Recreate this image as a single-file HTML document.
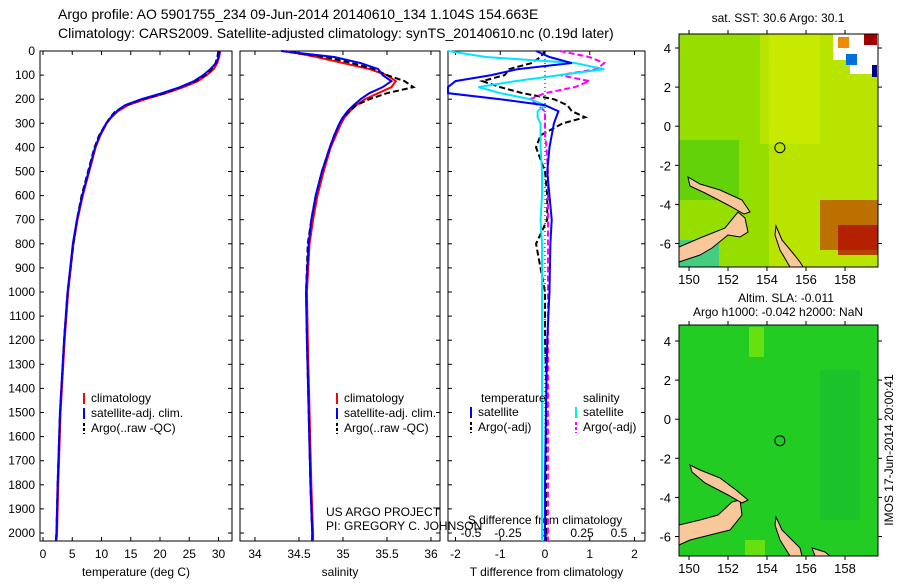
<!DOCTYPE html>
<html><head><meta charset="utf-8"><style>
body{margin:0;background:#fff;}
svg{font-family:"Liberation Sans",sans-serif;}
</style></head><body>
<svg id="c" width="900" height="580" xmlns="http://www.w3.org/2000/svg">
<text x="58" y="19" font-size="14">Argo profile: AO 5901755_234 09-Jun-2014 20140610_134 1.104S 154.663E</text>
<text x="58" y="38" font-size="14">Climatology: CARS2009. Satellite-adjusted climatology: synTS_20140610.nc (0.19d later)</text>
<g id="maps"></g>
</svg>
<script>
// ---- data ----
const depth   = [0,25,50,75,100,125,150,175,200,225,250,275,300,350,400,500,600,700,800,1000,1200,1500,1800,2000,2070];
const tempClim= [30.3,30.1,29.8,29.2,28.0,26.5,24.0,21.0,17.5,14.5,12.8,11.7,10.9,9.8,9.0,7.9,6.8,5.9,5.2,4.3,3.7,3.0,2.6,2.4,2.3];
const tempSat = [30.2,30.0,29.6,28.6,27.4,25.8,23.4,20.3,16.8,14.0,12.6,11.6,10.8,9.7,8.9,7.8,6.7,5.8,5.1,4.2,3.6,2.9,2.5,2.3,2.2];
const tempArgo= [30.0,29.8,29.5,28.8,27.8,26.0,23.5,20.8,17.0,14.2,12.4,11.5,10.8,9.6,8.8,7.7,6.6,5.8,5.2,4.2,3.6,2.9,2.5,2.3,2.2];
const salClim = [34.35,34.7,35.0,35.3,35.5,35.6,35.55,35.4,35.25,35.15,35.08,35.02,34.98,34.92,34.86,34.78,34.71,34.66,34.62,34.59,34.60,34.62,34.64,34.66,34.66];
const salSat  = [34.3,34.9,35.2,35.4,35.45,35.55,35.45,35.3,35.2,35.12,35.05,35.0,34.96,34.9,34.85,34.76,34.69,34.64,34.61,34.58,34.59,34.61,34.63,34.65,34.65];
const salArgo = [34.3,34.8,35.1,35.35,35.5,35.7,35.8,35.5,35.3,35.15,35.07,35.0,34.96,34.9,34.85,34.76,34.69,34.64,34.60,34.58,34.59,34.61,34.63,34.65,34.65];
const dTsat   = [-0.2,0.1,0.6,-0.6,-1.2,-2.0,-2.4,-2.3,-1.0,0.0,0.3,0.25,0.2,0.15,0.1,0.05,0.1,0.15,0.12,0.1,0.05,0.02,0.0,0.0,0.0];
const dTargo  = [0.0,-0.1,-0.3,-0.8,-0.9,-1.4,-1.0,-0.5,0.2,0.5,0.6,0.9,0.4,-0.1,-0.2,0.0,0.05,0.05,-0.2,0.0,0.0,0.05,0.02,0.03,0.03];
const dSsat   = [-0.7,-0.4,0.2,0.4,0.1,-0.2,-0.45,-0.3,-0.1,0.0,-0.05,-0.05,-0.03,-0.03,-0.03,-0.02,-0.02,-0.03,-0.02,-0.02,-0.02,-0.02,-0.02,-0.02,-0.02];
const dSargo  = [0.1,0.3,0.4,0.35,0.1,0.3,0.2,0.0,-0.1,-0.05,0.0,0.0,0.0,0.0,0.01,0.02,0.02,0.02,0.02,0.02,0.02,0.02,0.02,0.02,0.02];
const depthTicks=[0,100,200,300,400,500,600,700,800,900,1000,1100,1200,1300,1400,1500,1600,1700,1800,1900,2000];
const tTicks=[0,5,10,15,20,25,30];
const sTicks=[34,34.5,35,35.5,36];
const dTTicks=[-2,-1,0,1,2];
const dSTicks=[-0.5,-0.25,0,0.25,0.5];
const latTicks=[4,2,0,-2,-4,-6];
const lonTicks=[150,152,154,156,158];

const NS="http://www.w3.org/2000/svg", svg=document.getElementById('c');
function el(t,a,p){const e=document.createElementNS(NS,t);for(const k in a)e.setAttribute(k,a[k]);(p||svg).appendChild(e);return e;}
const Y0=51,YB=541,PY=0.241;
const yD=d=>Y0+d*PY;
function panel(name,x0,x1,fx,ticks,ticklbl){
  const g=el('g',{});
  
  
  el('rect',{x:x0,y:Y0,width:x1-x0,height:YB-Y0,fill:'#fff',stroke:'#000','stroke-width':1},g);
  depthTicks.forEach(d=>{const y=yD(d);
    el('line',{x1:x0,x2:x0+4,y1:y,y2:y,stroke:'#000'},g);el('line',{x1:x1-4,x2:x1,y1:y,y2:y,stroke:'#000'},g);
    if(x0===40){const t=el('text',{x:x0-5,y:y+4,'font-size':12,'text-anchor':'end'},g);t.textContent=d;
      }
  });
  ticks.forEach(v=>{const x=fx(v);
    el('line',{x1:x,x2:x,y1:YB,y2:YB-4,stroke:'#000'},g);el('line',{x1:x,x2:x,y1:Y0,y2:Y0+4,stroke:'#000'},g);
    const t=el('text',{x:x,y:558,'font-size':12,'text-anchor':'middle'},g);t.textContent=ticklbl?ticklbl(v):v;
    });
  const l=el('text',{x:(x0+x1)/2,y:576,'font-size':12,'text-anchor':'middle'},g);
  
  return {g,l};
}
function line(g,vals,fx,color,dash,nm,clipx0,clipx1){
  const pts=vals.map((v,i)=>[Math.max(clipx0,Math.min(clipx1,fx(v))),Math.min(YB,yD(depth[i]))].join(',')).join(' ');
  const p=el('polyline',{points:pts,fill:'none',stroke:color,'stroke-width':2,'stroke-dasharray':dash||'none'},g);
  
}
function legend(g,x,y,items){
  items.forEach((it,i)=>{const yy=y+i*15;
    el('line',{x1:x,x2:x,y1:yy-9,y2:yy+2,stroke:it[1],'stroke-width':2,'stroke-dasharray':it[2]||'none'},g);
    const t=el('text',{x:x+7,y:yy,'font-size':12},g);t.textContent=it[0];
    });
}
// temperature
const fT=v=>43+v*5.85;
let p=panel('temperature-panel',40,232,fT,tTicks);p.l.textContent='temperature (deg C)';
line(p.g,tempClim,fT,'#ff0000',null,'temperature-climatology-line',40,232);
line(p.g,tempArgo,fT,'#000',"6,3",'temperature-argo-line',40,232);
line(p.g,tempSat,fT,'#0000ff',null,'temperature-satellite-line',40,232);
legend(p.g,84,402,[['climatology','#f00'],['satellite-adj. clim.','#00f'],['Argo(..raw -QC)','#000','3,2']]);
// salinity
const fS=v=>255+(v-34)*88;
p=panel('salinity-panel',240,440,fS,sTicks);p.l.textContent='salinity';
line(p.g,salClim,fS,'#ff0000',null,'salinity-climatology-line',240,440);
line(p.g,salArgo,fS,'#000',"6,3",'salinity-argo-line',240,440);
line(p.g,salSat,fS,'#0000ff',null,'salinity-satellite-line',240,440);
legend(p.g,337,402,[['climatology','#f00'],['satellite-adj. clim.','#00f'],['Argo(..raw -QC)','#000','3,2']]);
// differences
const fD=v=>545+v*44.75, fDS=v=>545+v*148;
p=panel('difference-panel',448,645,fD,dTTicks);p.l.textContent='T difference from climatology';
dSTicks.forEach(v=>{const tt=el('text',{x:fDS(v),y:537,'font-size':12,'text-anchor':'middle'},p.g);tt.textContent=v;
  });
let t=el('text',{x:545,y:524,'font-size':12,'text-anchor':'middle'},p.g);t.textContent='S difference from climatology';
el('line',{x1:545,x2:545,y1:Y0,y2:YB,stroke:'#000','stroke-dasharray':'1,3'},p.g);
line(p.g,dTargo,fD,'#000',"6,3",'t-diff-argo-line',448,645);
line(p.g,dSargo,fDS,'#ff00ff',"6,3",'s-diff-argo-line',448,645);
line(p.g,dSsat,fDS,'#00e5ff',null,'s-diff-satellite-line',448,645);
line(p.g,dTsat,fD,'#0000ff',null,'t-diff-satellite-line',448,645);
t=el('text',{x:481,y:402,'font-size':12},p.g);t.textContent='temperature';
t=el('text',{x:583,y:402,'font-size':12},p.g);t.textContent='salinity';
legend(p.g,471,416,[['satellite','#00f'],['Argo(-adj)','#000','3,2']]);
legend(p.g,576,416,[['satellite','#0ee'],['Argo(-adj)','#f0f','3,2']]);
t=el('text',{x:326,y:516,'font-size':12});t.textContent='US ARGO PROJECT';

t=el('text',{x:326,y:530,'font-size':12});t.textContent='PI: GREGORY C. JOHNSON';


// ---- maps ----
const M=document.getElementById('maps');
function map(name,y0,y1,lat4){
  const g=el('g',{},M);
  const x0=679,x1=878;
  const lx=v=>689+(v-150)*19.5;
  const ly=v=>lat4+(4-v)*19.55;
  return {g,x0,x1,lx,ly,y0,y1};
}
function land(g,pts){el('polygon',{points:pts,fill:'#f8c89a',stroke:'#000','stroke-width':1},g);}
function axes(m){
  const g=m.g;
  el('rect',{x:m.x0,y:m.y0,width:m.x1-m.x0,height:m.y1-m.y0,fill:'none',stroke:'#000'},g);
  latTicks.forEach(v=>{const y=m.ly(v);el('line',{x1:m.x0,x2:m.x0-4,y1:y,y2:y,stroke:'#000'},g);el('line',{x1:m.x1,x2:m.x1+4,y1:y,y2:y,stroke:'#000'},g);
    const t=el('text',{x:m.x0-8,y:y+5,'font-size':13,'text-anchor':'end'},g);t.textContent=v;});
  lonTicks.forEach(v=>{const x=m.lx(v);el('line',{x1:x,x2:x,y1:m.y1,y2:m.y1+4,stroke:'#000'},g);el('line',{x1:x,x2:x,y1:m.y0,y2:m.y0-4,stroke:'#000'},g);
    const t=el('text',{x:x,y:m.y1+17,'font-size':13,'text-anchor':'middle'},g);t.textContent=v;});
  el('circle',{cx:m.lx(154.66),cy:m.ly(-1.1),r:5,fill:'none',stroke:'#000'},g);
}
let m1=map('sst-map',34,267,48);
el('rect',{x:679,y:34,width:199,height:233,fill:'#b8e400'},m1.g);
el('rect',{x:679,y:34,width:90,height:233,fill:'#7ed800',opacity:0.6},m1.g);
el('rect',{x:760,y:34,width:60,height:110,fill:'#d8ee00',opacity:0.5},m1.g);
el('rect',{x:679,y:140,width:60,height:60,fill:'#30c810',opacity:0.5},m1.g);
el('rect',{x:820,y:200,width:58,height:50,fill:'#c01000',opacity:0.55},m1.g);
el('rect',{x:838,y:225,width:40,height:30,fill:'#b00000',opacity:0.7},m1.g);
el('rect',{x:679,y:240,width:40,height:27,fill:'#30c8a0',opacity:0.8},m1.g);
el('rect',{x:833,y:34,width:45,height:26,fill:'#fff'},m1.g);
el('rect',{x:850,y:34,width:28,height:40,fill:'#fff'},m1.g);
el('rect',{x:838,y:37,width:11,height:11,fill:'#f08c00'},m1.g);
el('rect',{x:864,y:34,width:13,height:11,fill:'#a00000'},m1.g);
el('rect',{x:846,y:54,width:11,height:11,fill:'#0070e0'},m1.g);
el('rect',{x:872,y:65,width:5,height:12,fill:'#000080'},m1.g);
land(m1.g,'679,247 700,238 725,228 738,212 745,218 748,232 740,237 728,235 712,248 700,255 679,262');
land(m1.g,'688,177 700,184 720,190 742,200 750,212 744,214 728,205 705,193 690,186');
land(m1.g,'776,226 782,240 792,252 800,262 803,267 790,267 780,250 775,235');
axes(m1);
t=el('text',{x:778,y:22,'font-size':12,'text-anchor':'middle'},m1.g);t.textContent='sat. SST: 30.6 Argo: 30.1';
let m2=map('sla-map',325,556,341);
el('rect',{x:679,y:325,width:199,height:231,fill:'#22cc22'},m2.g);
el('rect',{x:749,y:327,width:15,height:30,fill:'#66e010'},m2.g);
el('rect',{x:820,y:370,width:40,height:150,fill:'#14b830',opacity:0.5},m2.g);
el('rect',{x:745,y:540,width:20,height:16,fill:'#66e010'},m2.g);
land(m2.g,'679,525 700,520 718,515 732,502 740,500 742,515 730,530 710,535 690,540 679,545');
land(m2.g,'690,465 700,470 720,478 736,490 748,500 742,503 728,495 705,483 692,472');
land(m2.g,'776,517 782,530 792,540 800,548 802,556 790,556 780,540 775,525');
land(m2.g,'812,548 825,552 830,556 815,556');
axes(m2);
t=el('text',{x:786,y:302,'font-size':12,'text-anchor':'middle'},m2.g);t.textContent='Altim. SLA: -0.011';
t=el('text',{x:778,y:316,'font-size':12,'text-anchor':'middle'},m2.g);t.textContent='Argo h1000: -0.042 h2000: NaN';
t=el('text',{x:0,y:0,'font-size':12,'text-anchor':'middle',transform:'translate(893,450) rotate(-90)'},M);
t.textContent='IMOS 17-Jun-2014 20:00:41';

</script>
</body></html>
